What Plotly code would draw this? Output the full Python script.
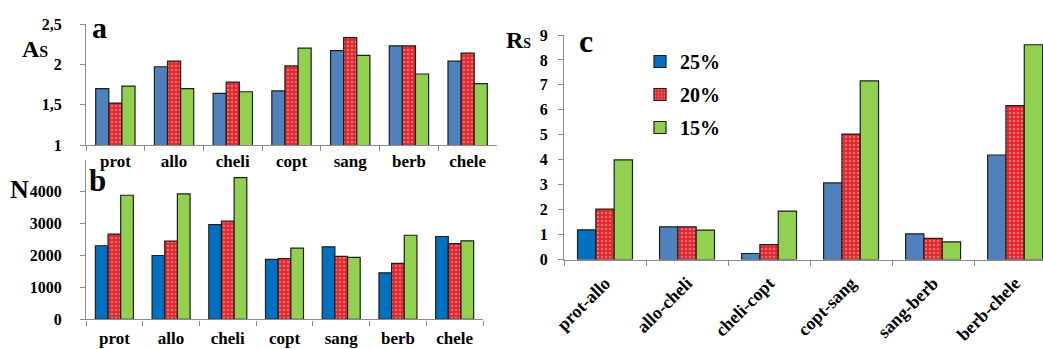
import plotly.graph_objects as go

# ---------------- data ----------------
compounds = ["prot", "allo", "cheli", "copt", "sang", "berb", "chele"]
pairs = ["prot-allo", "allo-cheli", "cheli-copt", "copt-sang", "sang-berb", "berb-chele"]
series_names = ["25%", "20%", "15%"]

as_25 = [1.70, 1.97, 1.64, 1.67, 2.17, 2.23, 2.04]
as_20 = [1.52, 2.04, 1.78, 1.98, 2.33, 2.23, 2.14]
as_15 = [1.73, 1.70, 1.66, 2.20, 2.11, 1.88, 1.76]

n_25 = [2310, 2005, 2975, 1880, 2275, 1460, 2600]
n_20 = [2675, 2455, 3080, 1910, 1975, 1755, 2380]
n_15 = [3895, 3935, 4450, 2235, 1945, 2640, 2465]

rs_25 = [1.19, 1.31, 0.24, 3.07, 1.03, 4.19]
rs_20 = [2.02, 1.31, 0.60, 5.03, 0.85, 6.17]
rs_15 = [3.99, 1.18, 1.94, 7.16, 0.71, 8.61]

as_tickvals = [1, 1.5, 2, 2.5]
as_ticktext = ["1", "1,5", "2", "2,5"]
n_tickvals = [0, 1000, 2000, 3000, 4000]
rs_tickvals = list(range(0, 10))

# ---------------- styles ----------------
BLUE_A = "#4F81BD"
BLUE_B = "#0070C0"
RED = "#E3262C"
GREEN = "#92D050"
EDGE = "#1E1E1E"
AXIS = "#8C8C8C"
FONT = "Liberation Serif, Times New Roman, serif"
W, H = 1043, 349

red_pattern = dict(shape=".", bgcolor=RED, fgcolor="#F6B0B0", size=4, solidity=0.35)
line = dict(color=EDGE, width=1.2)

fig = go.Figure()

def add_group(x, ys, colors, xa, ya, legend):
    for i, (y, name) in enumerate(zip(ys, series_names)):
        marker = dict(color=colors[i], line=line)
        if i == 1:
            marker["pattern"] = red_pattern
        fig.add_trace(go.Bar(
            x=x, y=y, name=name, marker=marker, xaxis=xa, yaxis=ya,
            showlegend=legend, legendgroup=name if legend else None,
        ))

add_group(compounds, [as_25, as_20, as_15], [BLUE_A, RED, GREEN], "x", "y", False)
add_group(compounds, [n_25, n_20, n_15], [BLUE_B, RED, GREEN], "x2", "y2", False)
rs_blue = [BLUE_B] + [BLUE_A] * (len(pairs) - 1)
add_group(pairs, [rs_25, rs_20, rs_15], [rs_blue, RED, GREEN], "x3", "y3", True)

def px_x(p):
    return p / W

def px_y(p):
    return (H - p) / H

tick_font = dict(family=FONT, size=16, color="black", weight="bold")
cat_font = dict(family=FONT, size=17, color="black", weight="bold")
rot_font = dict(family=FONT, size=18, color="black", weight="bold")

common_x = dict(type="category", showline=True, linecolor=AXIS, linewidth=1.2,
                ticks="outside", tickson="boundaries", ticklen=5, tickcolor=AXIS,
                showgrid=False, zeroline=False, tickfont=cat_font, automargin=False)
common_y = dict(showline=True, linecolor=AXIS, linewidth=1.2, ticks="outside",
                ticklen=5, tickcolor=AXIS, showgrid=False, zeroline=False,
                tickfont=tick_font, automargin=False)

fig.update_layout(
    width=W, height=H, margin=dict(l=0, r=0, t=0, b=0, autoexpand=False),
    paper_bgcolor="white", plot_bgcolor="white",
    barmode="group", bargap=0.33, bargroupgap=0,
    xaxis=dict(common_x, domain=[px_x(86), px_x(497)], anchor="y",
               range=[-0.5, 6.5], ticklabelstandoff=0),
    yaxis=dict(common_y, domain=[px_y(145), px_y(24)], anchor="x",
               range=[1, 2.5], tickvals=as_tickvals, ticktext=as_ticktext,
               ticklabelstandoff=15),
    xaxis2=dict(common_x, domain=[px_x(86), px_x(483)], anchor="y2",
                range=[-0.5, 6.5], ticklabelstandoff=3),
    yaxis2=dict(common_y, domain=[px_y(319.4), px_y(160)], anchor="x2",
                range=[0, 5000], tickvals=n_tickvals, ticklabelstandoff=15),
    xaxis3=dict(common_x, domain=[px_x(564), 1.0], anchor="y3",
                range=[-0.5, 5.34], tickangle=-45, tickfont=rot_font,
                ticklabelstandoff=5),
    yaxis3=dict(common_y, domain=[px_y(259.5), px_y(35)], anchor="x3",
                range=[0, 9], tickvals=rs_tickvals, ticklabelstandoff=7),
    legend=dict(x=px_x(640), y=px_y(42), xanchor="left", yanchor="top",
                font=dict(family=FONT, size=20, color="black", weight="bold"),
                tracegroupgap=4, bgcolor="rgba(0,0,0,0)", itemclick=False),
    showlegend=True,
)

def label(text, left, middle, size):
    fig.add_annotation(text=text, xref="paper", yref="paper",
                       x=px_x(left), y=px_y(middle), xanchor="left", yanchor="middle",
                       showarrow=False, borderpad=0,
                       font=dict(family=FONT, size=size, color="black", weight="bold"))

label("A<span style='font-size:16px'>S</span>", 21, 48.5, 24)
label("a", 91, 27.5, 30)
label("N", 9, 189.8, 26)
label("b", 88, 180, 31)
label("R<span style='font-size:14px'>S</span>", 505, 40.1, 24)
label("c", 578, 41, 32)

fig.write_html("out.html")
